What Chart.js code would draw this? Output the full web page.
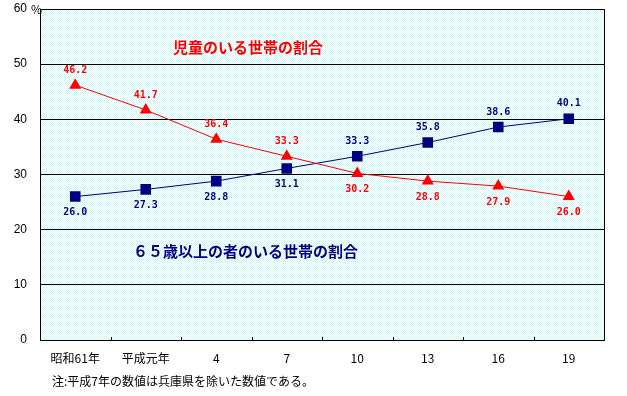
<!DOCTYPE html>
<html>
<head>
<meta charset="utf-8">
<script src="https://cdn.jsdelivr.net/npm/chart.js@4"></script>
<style>
  html,body{margin:0;padding:0;background:#fff}
  #wrap{width:627px;height:396px;position:relative}
</style>
</head>
<body>
<div id="wrap"><canvas id="c" width="627" height="396"></canvas></div>
<script>
/* ── data ── */
var categories = ['昭和61年','平成元年','4','7','10','13','16','19'];
var childShare = [46.2, 41.7, 36.4, 33.3, 30.2, 28.8, 27.9, 26.0];   // 児童のいる世帯の割合
var elderShare = [26.0, 27.3, 28.8, 31.1, 33.3, 35.8, 38.6, 40.1];   // 65歳以上の者のいる世帯の割合
var yTicks = [0, 10, 20, 30, 40, 50, 60];

var RED = '#ff0000', NAVY = '#000080';
var JP = '"Noto Sans CJK JP", "Noto Sans", sans-serif';

/* ── dithered light-cyan fill for plot area ── */
function makePattern(ctx){
  var p = document.createElement('canvas');
  p.width = 2; p.height = 2;
  var g = p.getContext('2d');
  g.fillStyle = '#ffffff'; g.fillRect(0,0,2,2);
  g.fillStyle = '#d0fafa'; g.fillRect(0,0,1,1); g.fillRect(1,1,1,1);
  return ctx.createPattern(p, 'repeat');
}

var plotBg = {
  id:'plotBg',
  beforeDraw:function(chart){
    var ctx = chart.ctx, a = chart.chartArea;
    ctx.save();
    ctx.fillStyle = '#fff';
    ctx.fillRect(0,0,chart.width,chart.height);
    ctx.fillStyle = makePattern(ctx);
    ctx.fillRect(a.left, a.top, a.right-a.left, a.bottom-a.top);
    ctx.restore();
  },
  beforeDatasetsDraw:function(chart){
    var ctx = chart.ctx, a = chart.chartArea;
    ctx.save();
    ctx.strokeStyle = '#000'; ctx.lineWidth = 1;
    ctx.strokeRect(Math.round(a.left)+0.5, Math.round(a.top)+0.5, Math.round(a.right-a.left), Math.round(a.bottom-a.top));
    // little tick marks between categories on the bottom edge
    var step = (a.right - a.left) / categories.length;
    for(var i=1;i<categories.length;i++){
      var tx = Math.round(a.left + step*i) + 0.5;
      ctx.beginPath(); ctx.moveTo(tx, a.bottom); ctx.lineTo(tx, a.bottom-3); ctx.stroke();
    }
    ctx.restore();
  }
};

/* ── value labels, series titles, note ── */
var annotate = {
  id:'annotate',
  afterDatasetsDraw:function(chart){
    var ctx = chart.ctx, a = chart.chartArea;
    ctx.save();
    ctx.font = 'bold 10px "DejaVu Sans Mono", monospace';
    ctx.textAlign = 'center'; ctx.textBaseline = 'middle';
    chart.data.datasets.forEach(function(ds, di){
      var other = chart.data.datasets[1-di].data;
      var meta = chart.getDatasetMeta(di);
      ctx.fillStyle = ds.borderColor;
      meta.data.forEach(function(pt, i){
        var above = ds.data[i] > other[i];
        ctx.fillText(ds.data[i].toFixed(1), pt.x, pt.y + (above ? -15 : 16));
      });
    });

    ctx.textAlign = 'left';
    ctx.font = 'bold 15px ' + JP;
    ctx.fillStyle = RED;
    ctx.fillText('児童のいる世帯の割合', 173, 47);
    ctx.fillStyle = NAVY;
    ctx.fillText('６５歳以上の者のいる世帯の割合', 133, 251);

    ctx.fillStyle = '#000';
    ctx.font = '12px ' + JP;
    ctx.fillText('%', 31, a.top);
    ctx.fillText('注:平成7年の数値は兵庫県を除いた数値である。', 52, 381);
    ctx.restore();
  }
};

new Chart(document.getElementById('c'), {
  type:'line',
  data:{
    labels:categories,
    datasets:[
      {label:'児童のいる世帯の割合', data:childShare, borderColor:RED, backgroundColor:RED,
       borderWidth:1, pointStyle:'triangle', pointRadius:7, pointBorderWidth:0, pointHoverRadius:7},
      {label:'65歳以上の者のいる世帯の割合', data:elderShare, borderColor:NAVY, backgroundColor:NAVY,
       borderWidth:1, pointStyle:'rect', pointRadius:7.5, pointBorderWidth:0, pointHoverRadius:7.5}
    ]
  },
  options:{
    responsive:false, animation:false,
    layout:{padding:{left:0, right:23, top:9, bottom:0}},
    plugins:{legend:{display:false}, tooltip:{enabled:false}},
    scales:{
      x:{
        offset:true,
        grid:{display:false},
        border:{display:false},
        ticks:{color:'#000', font:{family:JP, size:12}, padding:3, maxRotation:0, autoSkip:false},
        afterFit:function(s){ s.height = 56; s.paddingLeft = 0; s.paddingRight = 0; }
      },
      y:{
        min:0, max:60,
        afterBuildTicks:function(s){ s.ticks = yTicks.map(function(v){ return {value:v}; }); },
        grid:{color:'#000', lineWidth:1, drawTicks:false},
        border:{display:false},
        ticks:{color:'#000', font:{family:'"Liberation Sans", Arial, sans-serif', size:12}, padding:13},
        afterFit:function(s){ s.width = 40; s.paddingTop = 0; s.paddingBottom = 0; }
      }
    }
  },
  plugins:[plotBg, annotate]
});
</script>
</body>
</html>
